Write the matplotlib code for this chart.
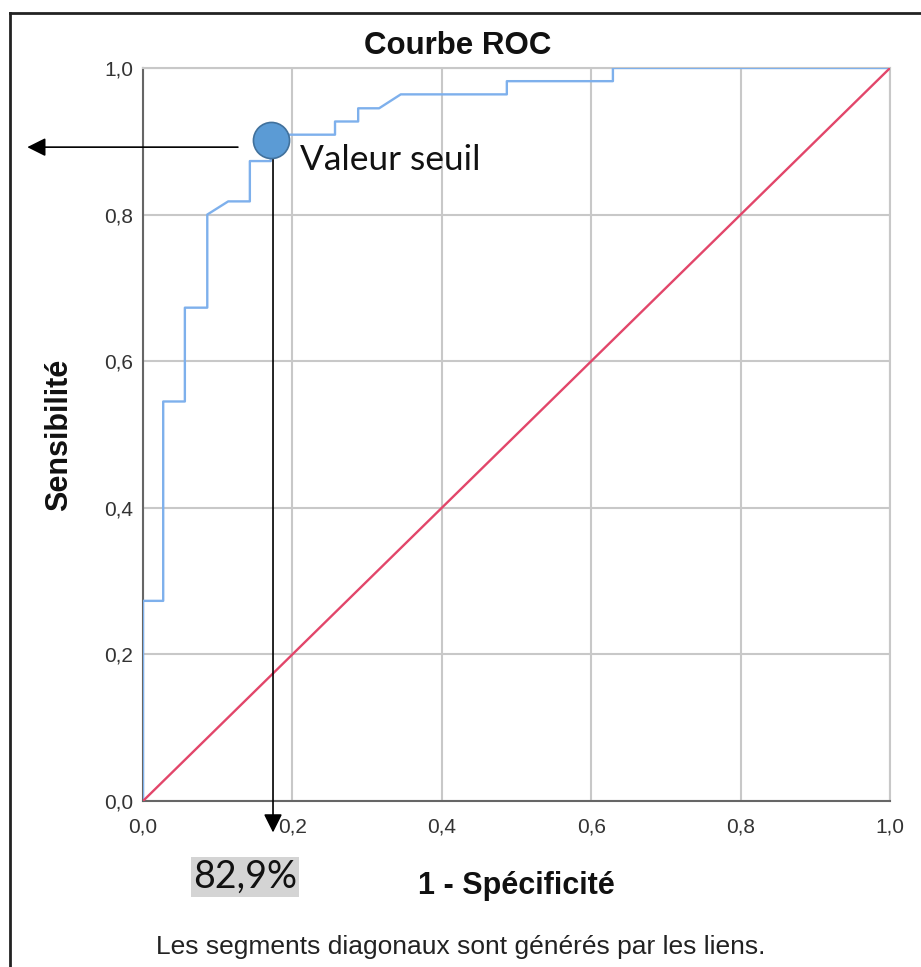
"""Courbe ROC avec valeur seuil annotee."""

import matplotlib
matplotlib.use('Agg')
import matplotlib.pyplot as plt
from matplotlib.ticker import FuncFormatter

# Points de la courbe ROC (1 - specificite, sensibilite)
fpr = [0.0, 0.0, 0.027, 0.027, 0.056, 0.056, 0.086, 0.086, 0.114, 0.143,
       0.143, 0.171, 0.171, 0.257, 0.257, 0.288, 0.288, 0.316, 0.345,
       0.487, 0.487, 0.629, 0.629, 1.0]
tpr = [0.0, 0.273, 0.273, 0.545, 0.545, 0.673, 0.673, 0.80, 0.818, 0.818,
       0.873, 0.873, 0.909, 0.909, 0.927, 0.927, 0.945, 0.945, 0.964,
       0.964, 0.982, 0.982, 1.0, 1.0]

# Valeur seuil retenue
seuil_x = 0.171
seuil_y = 0.902
seuil_label = '82,9%'

ticks = [0.0, 0.2, 0.4, 0.6, 0.8, 1.0]

plt.rcParams['font.family'] = ['Liberation Sans', 'DejaVu Sans']

fig = plt.figure(figsize=(9.21, 9.67), dpi=100)
ax = fig.add_axes([0.1553, 0.1717, 0.8111, 0.758])

ax.plot(fpr, tpr, color='#7eb0ec', lw=1.7, zorder=3)
ax.plot([0, 1], [0, 1], color='#e2466a', lw=1.7, zorder=3)

ax.set_xlim(0, 1)
ax.set_ylim(0, 1)
ax.set_xticks(ticks)
ax.set_yticks(ticks)
fmt = FuncFormatter(lambda v, p: f'{v:.1f}'.replace('.', ','))
ax.xaxis.set_major_formatter(fmt)
ax.yaxis.set_major_formatter(fmt)
ax.tick_params(length=0, labelsize=15, labelcolor='#333333')
ax.tick_params(axis='x', pad=12)
ax.tick_params(axis='y', pad=7)
ax.grid(True, color='#c8c8c8', lw=1.5)
ax.set_axisbelow(True)
for side in ['top', 'right']:
    ax.spines[side].set_color('#c8c8c8')
    ax.spines[side].set_linewidth(1.5)
for side in ['left', 'bottom']:
    ax.spines[side].set_color('#666666')
    ax.spines[side].set_linewidth(1.5)

fig.text(458 / 921, 1 - 46 / 967, 'Courbe ROC', fontsize=22.5, fontweight='bold',
         ha='center', va='center', color='#111111')
ax.set_ylabel('Sensibilité', fontsize=22, fontweight='bold', labelpad=22,
              color='#111111')
ax.set_xlabel('1 - Spécificité', fontsize=22, fontweight='bold', labelpad=25,
              color='#111111')

# fleches vers les axes
ax.annotate('', xy=(-0.155, 0.892), xytext=(0.127, 0.892),
            arrowprops=dict(arrowstyle='-|>', color='black', lw=1.2,
                            mutation_scale=28, shrinkA=0, shrinkB=0),
            annotation_clip=False, zorder=4)
ax.annotate('', xy=(seuil_x + 0.003, -0.043), xytext=(seuil_x + 0.003, seuil_y),
            arrowprops=dict(arrowstyle='-|>', color='black', lw=1.2,
                            mutation_scale=28, shrinkA=0, shrinkB=0),
            annotation_clip=False, zorder=4)
ax.plot([seuil_x], [seuil_y], 'o', ms=26, color='#5b9bd5',
        mec='#41719c', mew=1.2, zorder=5, clip_on=False)
ax.text(0.21, 0.874, 'Valeur seuil', fontsize=25.4, family=['Lato', 'DejaVu Sans'],
        va='center', ha='left', color='#111111')

fig.text(245 / 921, 1 - 877 / 967, seuil_label, fontsize=27,
         family=['Lato', 'DejaVu Sans'], ha='center', va='center', color='#111111',
         bbox=dict(boxstyle='square,pad=0.05', fc='#d4d4d4', ec='none'))

fig.text(461 / 921, 1 - 947 / 967, 'Les segments diagonaux sont générés par les liens.',
         fontsize=19, ha='center', va='center', color='#222222')

# cadre gauche et haut
fig.add_artist(plt.Line2D([10 / 921, 10 / 921], [0, 1 - 13 / 967], color='#222222', lw=2))
fig.add_artist(plt.Line2D([10 / 921, 1], [1 - 13 / 967, 1 - 13 / 967], color='#222222', lw=2))

fig.savefig('out.png', dpi=100)
